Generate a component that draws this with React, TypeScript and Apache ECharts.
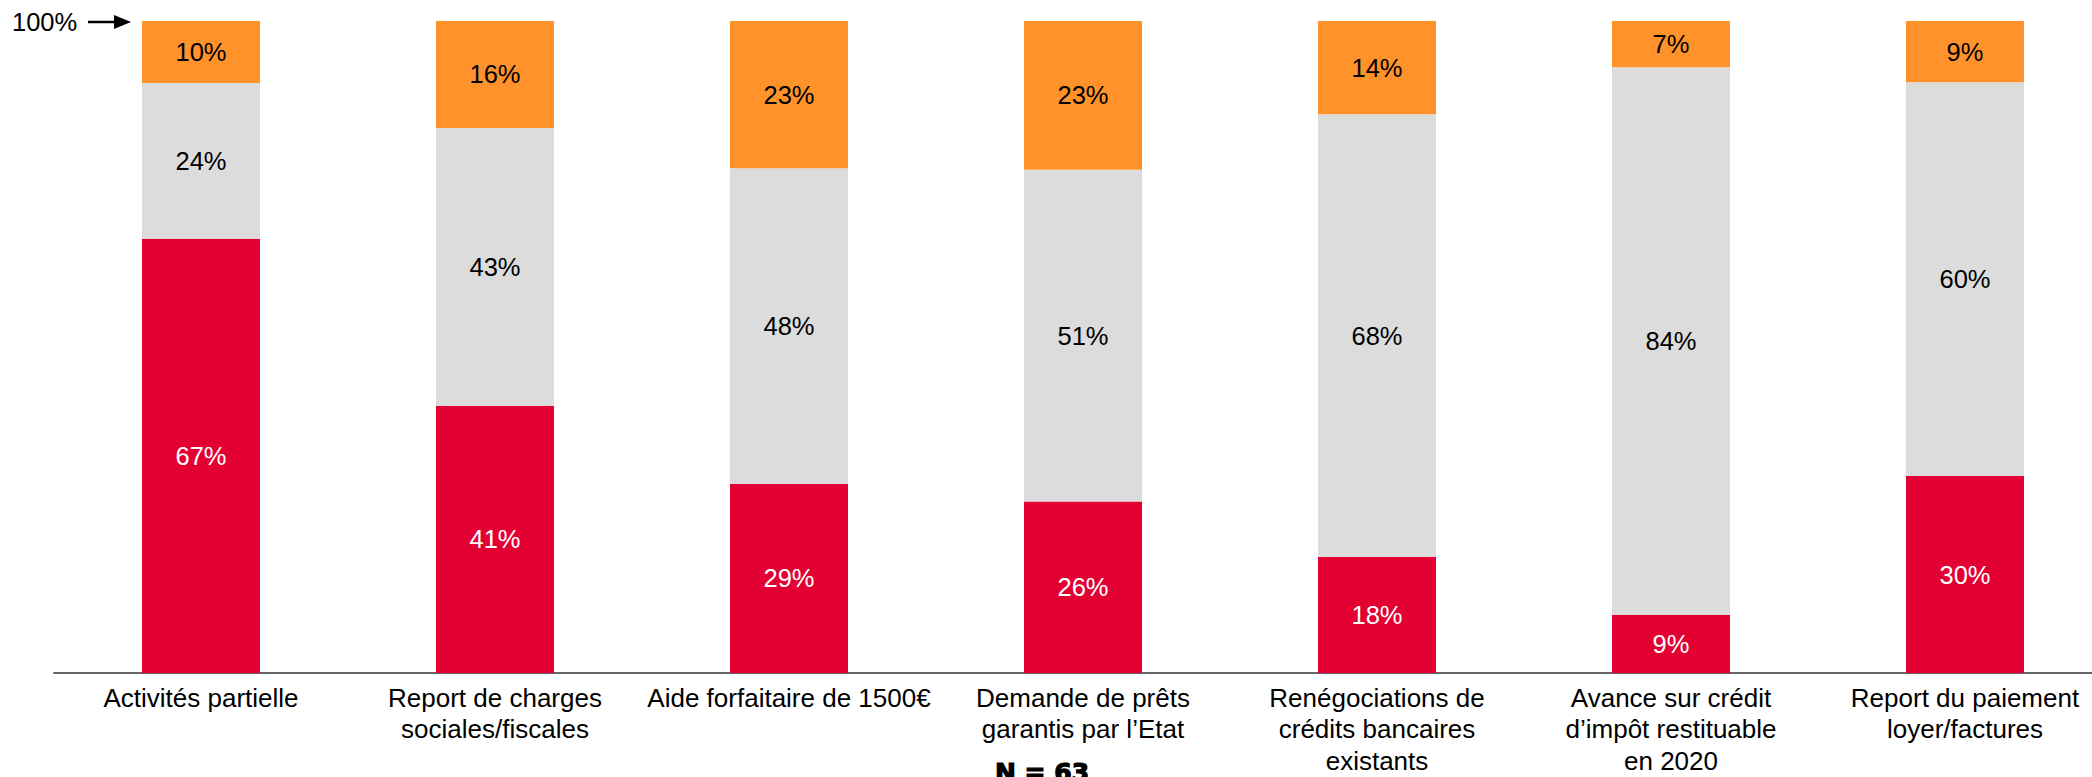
import React, { useEffect, useRef } from "react";
import * as echarts from "echarts";

const categories = [
  "Activités partielle",
  "Report de charges\nsociales/fiscales",
  "Aide forfaitaire de 1500€",
  "Demande de prêts\ngarantis par l’Etat",
  "Renégociations de\ncrédits bancaires\nexistants",
  "Avance sur crédit\nd’impôt restituable\nen 2020",
  "Report du paiement\nloyer/factures",
];

const redValues = [66.6, 41.0, 29.0, 26.3, 17.8, 8.9, 30.2];
const greyValues = [23.9, 42.6, 48.4, 50.9, 67.9, 84.0, 60.4];
const orangeValues = [9.5, 16.4, 22.6, 22.8, 14.3, 7.1, 9.4];

const topLabel = "100%";
const sampleLabel = "N = 63";

const FONT = "'Liberation Sans', Arial, sans-serif";

export default function App() {
  const ref = useRef<HTMLDivElement>(null);

  useEffect(() => {
    if (!ref.current) return;
    const chart = echarts.init(ref.current, null, { renderer: "svg" });

    const mkSeries = (name: string, data: number[], color: string, labelColor: string) => ({
      name,
      type: "bar",
      stack: "total",
      data,
      barWidth: 118,
      itemStyle: { color },
      label: {
        show: true,
        position: "inside",
        fontSize: 25.5,
        fontFamily: FONT,
        color: labelColor,
        formatter: (p: any) => Math.round(p.value) + "%",
      },
    });

    chart.setOption({
      animation: false,
      backgroundColor: "#ffffff",
      grid: {
        left: 54,
        top: 21,
        width: 2058,
        height: 652,
        containLabel: false,
        outerBoundsMode: "none",
      },
      xAxis: {
        type: "category",
        data: categories,
        axisLine: { show: true, lineStyle: { color: "#666666", width: 2 } },
        axisTick: { show: false },
        axisLabel: {
          interval: 0,
          fontSize: 26,
          lineHeight: 31.5,
          margin: 9,
          color: "#000000",
          fontFamily: FONT,
          align: "center",
        },
      },
      yAxis: {
        type: "value",
        min: 0,
        max: 100,
        show: false,
        splitLine: { show: false },
      },
      series: [
        mkSeries("red", redValues, "#E30033", "#ffffff"),
        mkSeries("grey", greyValues, "#DCDCDC", "#000000"),
        mkSeries("orange", orangeValues, "#FF922B", "#000000"),
      ],
      graphic: [
        {
          type: "text",
          left: 12,
          top: 9,
          style: { text: topLabel, fontSize: 25.5, fontFamily: FONT, fill: "#000000" },
        },
        {
          type: "line",
          shape: { x1: 88, y1: 22, x2: 117, y2: 22 },
          style: { stroke: "#000000", lineWidth: 2.5 },
        },
        {
          type: "polygon",
          shape: { points: [[114, 15], [131, 22], [114, 29]] },
          style: { fill: "#000000" },
        },
        {
          type: "text",
          x: 1042,
          y: 760,
          style: {
            text: sampleLabel,
            fontSize: 25,
            fontWeight: "bold",
            fontFamily: "'DejaVu Sans', sans-serif",
            fill: "#000000",
            stroke: "#000000",
            lineWidth: 1.2,
            align: "center",
            verticalAlign: "top",
          },
        },
      ],
    });

    return () => chart.dispose();
  }, []);

  return (
    <div
      ref={ref}
      style={{ position: "absolute", left: 0, top: 0, width: 2092, height: 777 }}
    />
  );
}
